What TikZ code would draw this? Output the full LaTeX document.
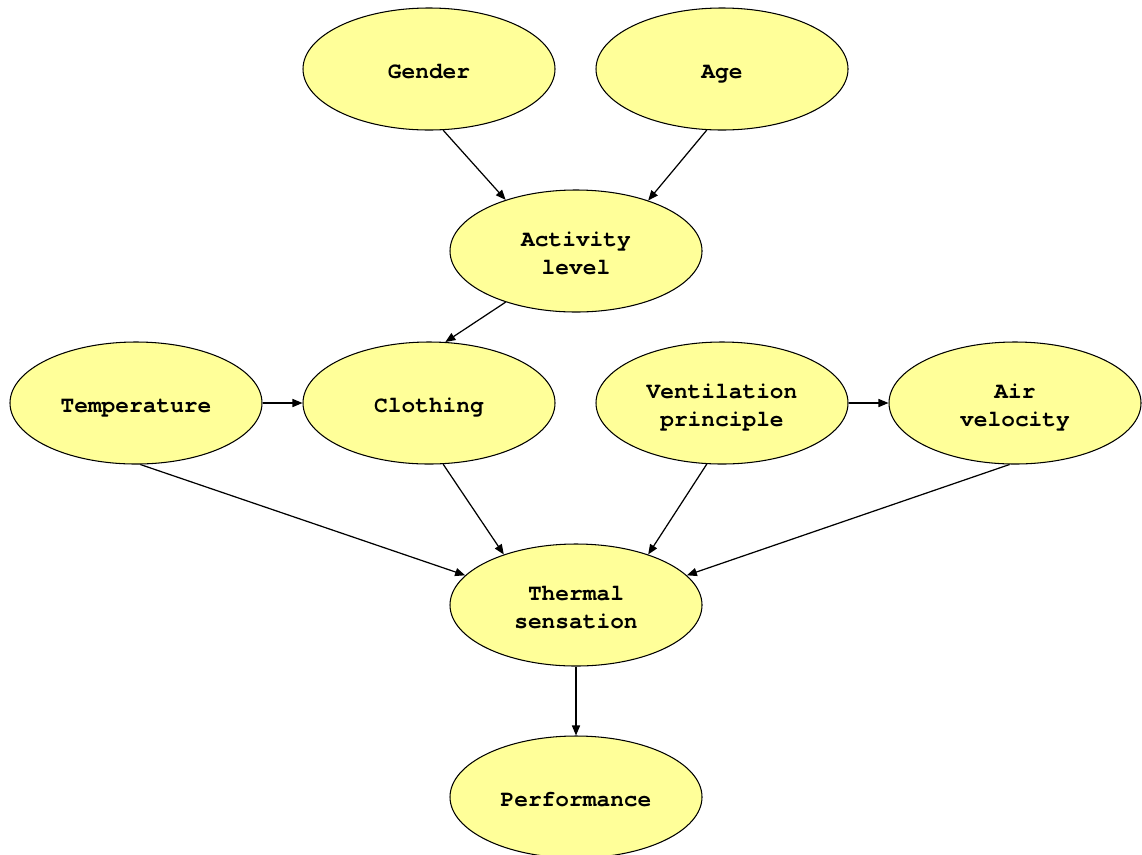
\documentclass[tikz,border=0pt]{standalone}
\usepackage{fontspec}
\usepackage{xcolor}
\usepackage{tikz}
\usetikzlibrary{shapes.geometric,arrows.meta}
\newfontfamily\nodefont{texgyrecursor}[Extension=.otf, UprightFont=*-regular, BoldFont=*-bold]
\definecolor{nodeyellow}{RGB}{255,255,153}

\begin{document}
\begin{tikzpicture}[
		var/.style={draw=black, line width=0.6pt, fill=nodeyellow, ellipse, minimum width=5.04cm, minimum height=2.44cm, inner sep=0pt, align=center, font=\nodefont\bfseries\fontsize{13.0pt}{15.9pt}\selectfont, text height=15.6pt, text depth=4.8pt},
		twoline/.style={text height=31.5pt},
		link/.style={draw=black, -{Triangle[length=5.7pt, width=4.6pt]}, line width=0.7pt, solid}]
		\useasboundingbox (0.00,0.00) rectangle (22.84,-17.08);
		\node[var] (gender) at (8.58,-1.38) {Gender};
		\node[var] (age) at (14.44,-1.38) {Age};
		\node[var, twoline] (activity) at (11.52,-5.02) {Activity\\level};
		\node[var] (temp) at (2.72,-8.06) {Temperature};
		\node[var] (clothing) at (8.58,-8.06) {Clothing};
		\node[var, twoline] (vent) at (14.44,-8.06) {Ventilation\\principle};
		\node[var, twoline] (air) at (20.30,-8.06) {Air\\velocity};
		\node[var, twoline] (thermal) at (11.52,-12.10) {Thermal\\sensation};
		\node[var] (perf) at (11.52,-15.94) {Performance};
		\draw[link] (gender.-77) -- (activity.144);
		\draw[link] (age.-104) -- (activity.35);
		\draw[link] (activity.216) -- (clothing.75);
		\draw[link] (temp.east) -- (clothing.west);
		\draw[link] (vent.east) -- (air.west);
		\draw[link] (temp.-86) -- (thermal.165);
		\draw[link] (clothing.-77) -- (thermal.145);
		\draw[link] (vent.-104) -- (thermal.35);
		\draw[link] (air.-95) -- (thermal.15);
		\draw[link] (thermal.south) -- (perf.north);
	\end{tikzpicture}
\end{document}
